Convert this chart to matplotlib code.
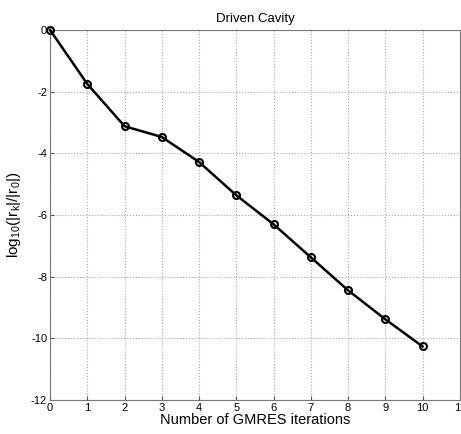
import matplotlib.pyplot as plt
import numpy as np

plt.rcParams['font.family'] = ['Liberation Sans', 'DejaVu Sans']
plt.rcParams['mathtext.fontset'] = 'custom'
plt.rcParams['mathtext.rm'] = 'Liberation Sans'
plt.rcParams['mathtext.it'] = 'Liberation Sans'

# GMRES convergence history
iterations = [0, 1, 2, 3, 4, 5, 6, 7, 8, 9, 10]
log_residual = [0.0, -1.75, -3.12, -3.47, -4.28, -5.36, -6.30, -7.37, -8.44, -9.38, -10.26]

x_ticks = list(range(0, 12))
y_ticks = [0, -2, -4, -6, -8, -10, -12]

fig = plt.figure(figsize=(4.61, 4.34), dpi=100)
ax = fig.add_axes([0.1085, 0.078, 0.889, 0.853])

ax.plot(iterations, log_residual, color='black', linewidth=1.8,
        marker='o', markersize=5, markerfacecolor='none',
        markeredgecolor='black', markeredgewidth=1.5, clip_on=False, zorder=3)

ax.set_xlim(0, 11)
ax.set_ylim(-12, 0)
ax.set_xticks(x_ticks)
ax.set_yticks(y_ticks)
ax.set_xticklabels([str(t) for t in x_ticks])
ax.set_yticklabels([str(t) for t in y_ticks])
ax.tick_params(labelsize=8, direction='in', length=3, color='#555555', pad=2)

ax.grid(True, linestyle=':', color='#aaaaaa', linewidth=0.8)
for s in ax.spines.values():
    s.set_color('#777777')
    s.set_linewidth(0.8)

ax.set_title('Driven Cavity', fontsize=9.5, pad=6)
ax.set_xlabel('Number of GMRES iterations', fontsize=10.5, labelpad=0)
ax.set_ylabel(r'log$_{10}$(|r$_{\mathrm{k}}$|/|r$_0$|)', fontsize=11, labelpad=6)

fig.savefig('out.png', dpi=100)
